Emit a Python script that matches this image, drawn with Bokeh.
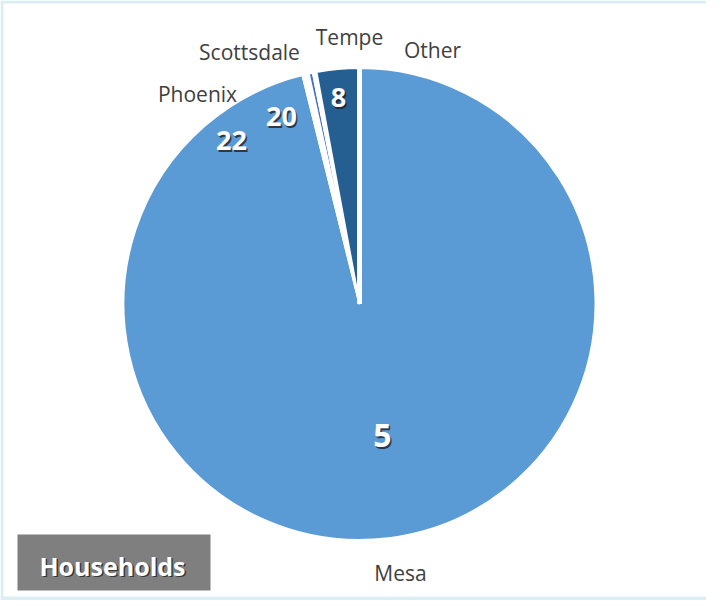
import math
from bokeh.plotting import figure
from bokeh.models import ColumnDataSource, Range1d
from bokeh.core.properties import value
from bokeh.embed import file_html
from bokeh.resources import INLINE

# ---- data ----
categories = ["Mesa", "Phoenix", "Scottsdale", "Other", "Tempe"]
shares = [96.11, 0.44, 0.28, 0.25, 2.92]          # percent of the pie
slice_colors = ["#5B9BD5", "#FFFFFF", "#4472C4", "#FFFFFF", "#255E91"]

value_labels = ["5", "22", "20", "8"]
value_label_for = ["Mesa", "Phoenix", "Scottsdale", "Tempe"]
category_labels = ["Other", "Tempe", "Scottsdale", "Phoenix", "Mesa"]
title_text = "Households"

# ---- layout (page pixel positions) ----
W, H = 706, 600
def px(x):
    return x - 8
def py(y):
    return 608 - y

cx, cy, R = px(367), py(311.5), 236

value_pos = {"5": (390, 443), "22": (239, 148), "20": (289, 124), "8": (346, 105)}
value_size = {"5": "32px", "22": "27px", "20": "27px", "8": "27px"}
cat_pos = {"Other": (440, 57), "Tempe": (357, 44), "Scottsdale": (257, 59),
           "Phoenix": (205, 101), "Mesa": (408, 580)}

p = figure(width=W, height=H, output_backend="svg", toolbar_location=None,
           x_range=Range1d(0, W), y_range=Range1d(0, H),
           x_axis_type=None, y_axis_type=None, min_border=0,
           background_fill_color="white", border_fill_color="white")
p.grid.visible = False
p.outline_line_color = None

# frame
frame = "#DBEEF4"
p.quad(left=[0, 0, 0], right=[3, W, W], bottom=[0, py(11), 0], top=[H, H, 4],
       fill_color=frame, line_color=None)

# pie slices
total = sum(shares)
starts, ends = [], []
acc = 0.0
for s in shares:
    starts.append(math.pi / 2 - acc / total * 2 * math.pi)
    acc += s
    ends.append(math.pi / 2 - acc / total * 2 * math.pi)
src = ColumnDataSource(dict(cat=categories, start=starts, end=ends, color=slice_colors))
p.wedge(x=cx, y=cy, radius=R, start_angle="start", end_angle="end",
        direction="clock", fill_color="color", line_color="white", line_width=2, source=src)
# wider white separator where the pie starts (12 o'clock)
p.ray(x=[cx], y=[cy], length=[R + 1], angle=[starts[0]], line_color="white", line_width=5)

# value labels with shadow
vx = [px(value_pos[v][0]) for v in value_labels]
vy = [py(value_pos[v][1]) for v in value_labels]
vs = [value_size[v] for v in value_labels]
vsrc = ColumnDataSource(dict(x=vx, y=vy, t=value_labels, s=vs))
p.text(x="x", y="y", text="t", source=vsrc, text_font=value("Open Sans"),
       text_font_style="bold", text_font_size="s", text_color="#1a1a1a", text_alpha=0.75,
       text_align="center", text_baseline="middle", x_offset=1.5, y_offset=1.5)
p.text(x="x", y="y", text="t", source=vsrc, text_font=value("Open Sans"),
       text_font_style="bold", text_font_size="s", text_color="white",
       text_align="center", text_baseline="middle")

# category labels
cx_l = [px(cat_pos[c][0]) for c in category_labels]
cy_l = [py(cat_pos[c][1]) for c in category_labels]
p.text(x=cx_l, y=cy_l, text=category_labels, text_font=value("Open Sans"),
       text_font_size="21px", text_color="#404040",
       text_align="center", text_baseline="middle")

# title box
p.quad(left=[px(25)], right=[px(218)], bottom=[py(598)], top=[py(542)],
       fill_color="#7F7F7F", line_color=None)
p.text(x=[px(120)], y=[py(573)], text=[title_text], text_font=value("Open Sans"),
       text_font_style="bold", text_font_size="25px", text_color="#222222", text_alpha=0.8,
       text_align="center", text_baseline="middle", x_offset=1.5, y_offset=1.5)
p.text(x=[px(120)], y=[py(573)], text=[title_text], text_font=value("Open Sans"),
       text_font_style="bold", text_font_size="25px", text_color="white",
       text_align="center", text_baseline="middle")

open("out.html", "w").write(file_html(p, INLINE))
